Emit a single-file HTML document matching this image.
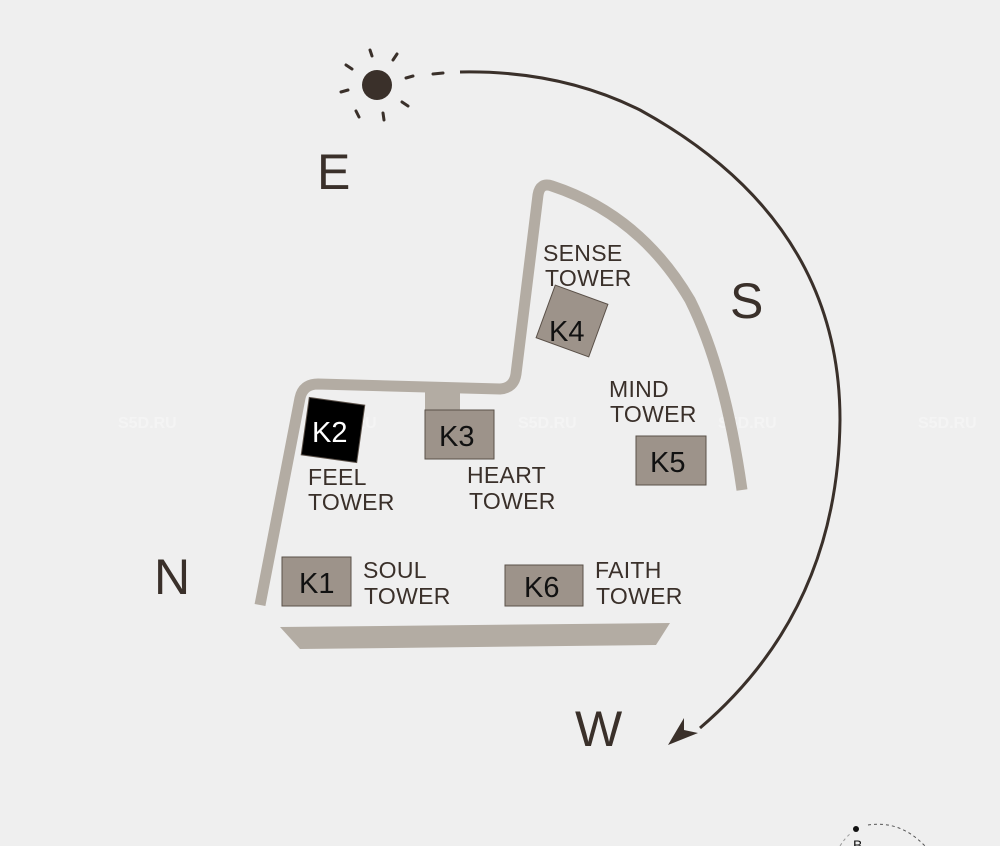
<!DOCTYPE html>
<html><head><style>
html,body{margin:0;padding:0;background:#efefef;}
svg{display:block}
text{font-family:"Liberation Sans",sans-serif;}
</style></head><body>
<svg width="1000" height="846" viewBox="0 0 1000 846" xmlns="http://www.w3.org/2000/svg">
<rect width="1000" height="846" fill="#efefef"/>
<g fill="#f4f4f4" font-size="16" font-weight="bold">
<text x="118" y="428">S5D.RU</text><text x="318" y="428">S5D.RU</text><text x="518" y="428">S5D.RU</text><text x="718" y="428">S5D.RU</text><text x="918" y="428">S5D.RU</text>
</g>
<circle cx="377" cy="85" r="15" fill="#3a302a"/>
<g stroke="#3a302a" stroke-width="3" stroke-linecap="round">
<line x1="370" y1="50" x2="372" y2="56"/>
<line x1="393" y1="60" x2="397" y2="54"/>
<line x1="346" y1="65" x2="352" y2="69"/>
<line x1="406" y1="78" x2="413" y2="76"/>
<line x1="341" y1="92" x2="348" y2="90"/>
<line x1="402" y1="102" x2="408" y2="106"/>
<line x1="356" y1="111" x2="359" y2="117"/>
<line x1="383" y1="113" x2="384" y2="120"/>
<line x1="433" y1="74" x2="443" y2="73"/>
</g>
<path d="M460 72 Q560 70 640 110 Q840 220 840 420 Q838 610 700 728" fill="none" stroke="#3a302a" stroke-width="3"/>
<path d="M668 745 L684 718 L684 730 L698 733 Z" fill="#3a302a"/>
<g fill="#3a302a" font-size="50">
<text x="317" y="189">E</text>
<text x="730" y="318">S</text>
<text x="154" y="594">N</text>
<text x="575" y="746">W</text>
</g>
<g fill="none" stroke="#b3aca3" stroke-width="11" stroke-linejoin="round">
<path d="M260 605 L300 398 Q303 384 318 384 L500 389 Q514 388 516 374 L538 195 Q540 182 552 186 Q640 215 690 300 Q725 370 742 490"/>
</g>
<rect x="425" y="388" width="35" height="24" fill="#b3aca3"/>
<polygon points="280,627 670,623 656,645 300,649" fill="#b3aca3"/>
<g stroke="#5a5048" stroke-width="1">
<rect x="282" y="557" width="69" height="49" fill="#9d938a"/>
<rect x="425" y="410" width="69" height="49" fill="#9d938a"/>
<rect x="636" y="436" width="70" height="49" fill="#9d938a"/>
<rect x="505" y="565" width="78" height="41" fill="#9d938a"/>
<rect x="544" y="293" width="56" height="56" fill="#9d938a" transform="rotate(20 572 321)"/>
<rect x="305" y="401" width="56" height="58" fill="#000" transform="rotate(8 333 430)"/>
</g>
<g font-size="29" fill="#111">
<text x="299" y="593">K1</text>
<text x="312" y="442" fill="#fff">K2</text>
<text x="439" y="446">K3</text>
<text x="549" y="341">K4</text>
<text x="650" y="472">K5</text>
<text x="524" y="597">K6</text>
</g>
<g font-size="23" fill="#3a302a" letter-spacing="0.3">
<text x="543" y="261">SENSE</text><text x="545" y="286">TOWER</text>
<text x="609" y="397">MIND</text><text x="610" y="422">TOWER</text>
<text x="308" y="485">FEEL</text><text x="308" y="510">TOWER</text>
<text x="467" y="483">HEART</text><text x="469" y="509">TOWER</text>
<text x="363" y="578">SOUL</text><text x="364" y="604">TOWER</text>
<text x="595" y="578">FAITH</text><text x="596" y="604">TOWER</text>
</g>
<circle cx="856" cy="829" r="3" fill="#111"/>
<path d="M868 825 Q900 820 925 846" fill="none" stroke="#555" stroke-width="1" stroke-dasharray="3 3"/>
<path d="M840 846 Q845 838 850 834" fill="none" stroke="#999" stroke-width="1" stroke-dasharray="3 3"/>
<text x="853" y="850" font-size="14" fill="#111">B</text>
</svg>
</body></html>
